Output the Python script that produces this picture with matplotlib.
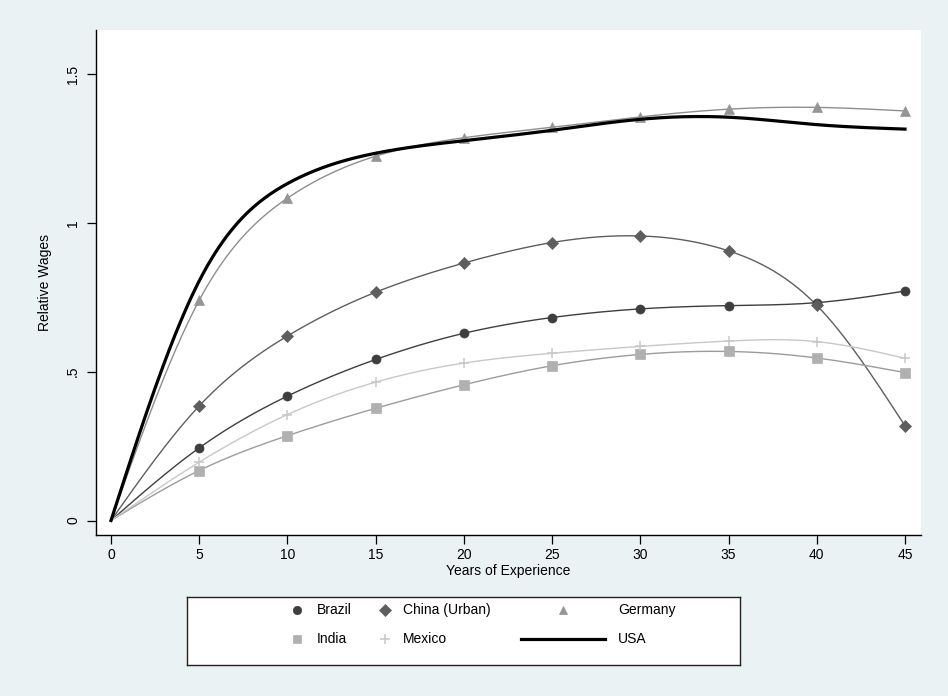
import numpy as np
import matplotlib.pyplot as plt
from matplotlib.lines import Line2D

plt.rcParams['font.family'] = ['Liberation Sans', 'DejaVu Sans']

# Years of experience and relative wages by country
years = [0, 5, 10, 15, 20, 25, 30, 35, 40, 45]
brazil = [0, 0.244, 0.418, 0.541, 0.629, 0.682, 0.711, 0.722, 0.732, 0.771]
china = [0, 0.385, 0.620, 0.767, 0.865, 0.934, 0.956, 0.906, 0.723, 0.318]
germany = [0, 0.740, 1.083, 1.224, 1.286, 1.321, 1.356, 1.382, 1.388, 1.376]
india = [0, 0.168, 0.285, 0.377, 0.456, 0.520, 0.558, 0.568, 0.546, 0.497]
mexico = [0, 0.196, 0.356, 0.465, 0.529, 0.562, 0.585, 0.603, 0.601, 0.545]

# USA has no markers, a few more knots for the early part
usa_years = [0, 2.5, 5, 10, 15, 20, 25, 30, 35, 40, 45]
usa = [0, 0.445, 0.805, 1.132, 1.234, 1.276, 1.311, 1.348, 1.355, 1.330, 1.315]

yticks = [0, 0.5, 1, 1.5]
ytick_labels = ['0', '.5', '1', '1.5']
xticks = list(range(0, 50, 5))


def natural_spline(x, y, xs):
    """natural cubic spline through (x, y), evaluated at xs"""
    x = np.asarray(x, float)
    y = np.asarray(y, float)
    n = len(x)
    h = np.diff(x)
    A = np.zeros((n, n))
    b = np.zeros(n)
    A[0, 0] = A[-1, -1] = 1
    for i in range(1, n - 1):
        A[i, i - 1] = h[i - 1]
        A[i, i] = 2 * (h[i - 1] + h[i])
        A[i, i + 1] = h[i]
        b[i] = 6 * ((y[i + 1] - y[i]) / h[i] - (y[i] - y[i - 1]) / h[i - 1])
    m = np.linalg.solve(A, b)
    idx = np.clip(np.searchsorted(x, xs) - 1, 0, n - 2)
    t = xs - x[idx]
    hi = h[idx]
    a = (m[idx + 1] - m[idx]) / (6 * hi)
    bb = m[idx] / 2
    c = (y[idx + 1] - y[idx]) / hi - hi * (2 * m[idx] + m[idx + 1]) / 6
    return y[idx] + c * t + bb * t ** 2 + a * t ** 3


bg = '#eaf2f3'
fig = plt.figure(figsize=(9.48, 6.96), dpi=100, facecolor=bg)
ax = fig.add_axes([96 / 948, 1 - 535 / 696, 825 / 948, 505 / 696])
ax.set_facecolor('white')

xs = np.linspace(0, 45, 400)

series = [
    ('Brazil', brazil, '#3e3e3e', '#3e3e3e', 'o', 6.5),
    ('China (Urban)', china, '#5e5e5e', '#5e5e5e', 'D', 6.5),
    ('Germany', germany, '#8e8e8e', '#959595', '^', 7),
    ('India', india, '#9c9c9c', '#b0b0b0', 's', 6.5),
    ('Mexico', mexico, '#c8c8c8', '#c8c8c8', '+', 7),
]
for name, vals, lc, mc, mk, ms in series:
    ax.plot(xs, natural_spline(years, vals, xs), color=lc, lw=1.0, zorder=2)
    ax.plot(years[1:], vals[1:], linestyle='none', marker=mk, ms=ms,
            color=mc, mec=mc, mew=1.1 if mk == '+' else 0.5, zorder=3)

ax.plot(xs, natural_spline(usa_years, usa, xs), color='black', lw=2.3, zorder=4)

ax.set_xlim(-0.85, 45.907)
ax.set_ylim(-0.0487, 1.648)
ax.set_xticks(xticks)
ax.set_yticks(yticks)
ax.set_yticklabels(ytick_labels, rotation=90, va='center')
ax.tick_params(axis='both', length=6.5, width=0.9, labelsize=10, color='black')
ax.tick_params(axis='y', pad=5)
ax.tick_params(axis='x', pad=3)
for s in ['top', 'right']:
    ax.spines[s].set_visible(False)
for s in ['left', 'bottom']:
    ax.spines[s].set_linewidth(1.0)

ax.set_xlabel('Years of Experience', fontsize=10, labelpad=1)
ax.set_ylabel('Relative Wages', fontsize=10, labelpad=10)

# legend panel
lax = fig.add_axes([187 / 948, 1 - 665 / 696, 553 / 948, 68 / 696])
lax.set_xlim(0, 553)
lax.set_ylim(68, 0)
lax.set_xticks([])
lax.set_yticks([])
for s in lax.spines.values():
    s.set_linewidth(1.0)
    s.set_color('#222222')

row1, row2 = 13, 42
entries = [
    (110, row1, 'o', '#3e3e3e', 6, 'Brazil', 130),
    (198, row1, 'D', '#5e5e5e', 6, 'China (Urban)', 216),
    (376, row1, '^', '#959595', 6, 'Germany', 431),
    (110, row2, 's', '#b0b0b0', 6, 'India', 130),
    (198, row2, '+', '#c8c8c8', 7, 'Mexico', 216),
]
for mx, my, mk, c, ms, label, tx in entries:
    lax.plot([mx], [my], marker=mk, ms=ms, color=c, mec=c,
             mew=1.1 if mk == '+' else 0.5, linestyle='none')
    lax.text(tx, my, label, fontsize=10, va='center', ha='left')
lax.add_line(Line2D([334, 418], [row2, row2], color='black', lw=2.3))
lax.text(431, row2, 'USA', fontsize=10, va='center', ha='left')

fig.savefig('out.png', dpi=100, facecolor=bg)
